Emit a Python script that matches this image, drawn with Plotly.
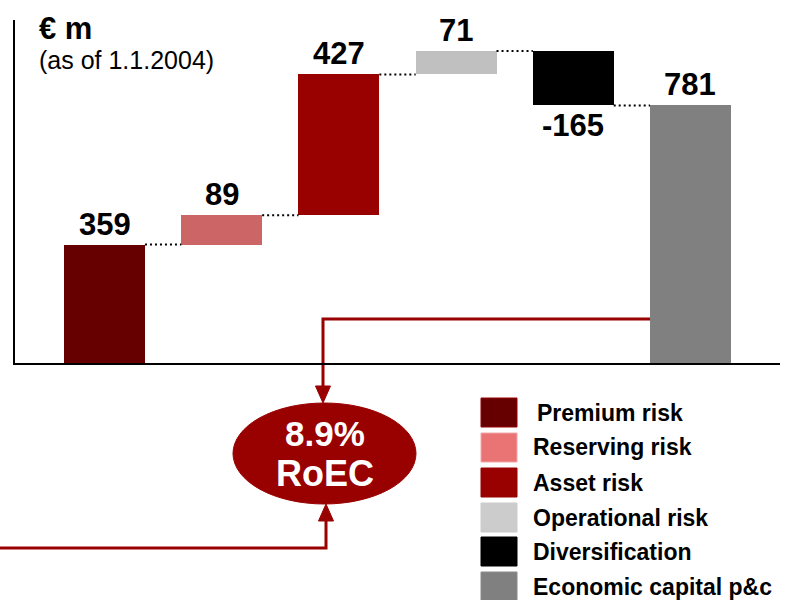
import plotly.graph_objects as go

# ---- data ----
categories = ["Premium risk", "Reserving risk", "Asset risk", "Operational risk",
              "Diversification", "Economic capital p&c"]
values = [359, 89, 427, 71, -165, 781]
is_total = [False, False, False, False, False, True]
value_labels = ["359", "89", "427", "71", "-165", "781"]
bar_colors = ["#660000", "#CC6666", "#990000", "#C0C0C0", "#000000", "#808080"]
legend_colors = ["#660000", "#EA7373", "#990000", "#CCCCCC", "#000000", "#808080"]
legend_borders = ["#990000", "#F2A8A8", "#990000", "#CCCCCC", "#000000", "#8A8A8A"]
unit_title = "€ m"
subtitle = "(as of 1.1.2004)"
roec_value = "8.9%"
roec_text = "RoEC"

FONT = "Liberation Sans, Arial, Helvetica, sans-serif"
RED = "#990000"
W, H = 792, 600
ML, MR, MT, MB = 15, 12, 20, 237
BAR_W = 0.69

# waterfall bases from the data
bases, ends = [], []
cum = 0
for v, tot in zip(values, is_total):
    if tot:
        bases.append(0)
        ends.append(v)
    else:
        bases.append(cum)
        cum += v
        ends.append(cum)

xs = list(range(len(categories)))

fig = go.Figure()
fig.add_trace(go.Bar(x=xs, y=values, base=bases, width=BAR_W,
                     marker=dict(color=bar_colors, line=dict(width=0)),
                     hoverinfo="skip", showlegend=False))

# dotted connectors
for i in range(len(xs) - 1):
    lvl = ends[i]
    fig.add_trace(go.Scatter(x=[xs[i] + BAR_W / 2, xs[i + 1] - BAR_W / 2], y=[lvl, lvl],
                             mode="lines", line=dict(color="black", width=2, dash="2px,3px"),
                             hoverinfo="skip", showlegend=False))

pw = W - ML - MR
ph = H - MT - MB


def px(xp):
    return (xp - ML) / pw


def py(yp):
    return (H - MB - yp) / ph


annotations = []
# value labels
for i, (v, lab) in enumerate(zip(values, value_labels)):
    top = bases[i] + max(v, 0)
    bot = bases[i] + min(v, 0)
    if v >= 0:
        annotations.append(dict(x=xs[i], y=top, xref="x", yref="y", text="<b>%s</b>" % lab,
                                showarrow=False, yanchor="bottom", yshift=1,
                                font=dict(size=31, color="black", family=FONT)))
    else:
        annotations.append(dict(x=xs[i], y=bot, xref="x", yref="y", text="<b>%s</b>" % lab,
                                showarrow=False, yanchor="top", yshift=-1,
                                font=dict(size=31, color="black", family=FONT)))

# title
annotations.append(dict(x=px(37), y=py(9), xref="paper", yref="paper", text="<b>%s</b>" % unit_title,
                        showarrow=False, xanchor="left", yanchor="top",
                        font=dict(size=31, color="black", family=FONT)))
annotations.append(dict(x=px(37), y=py(44), xref="paper", yref="paper", text=subtitle,
                        showarrow=False, xanchor="left", yanchor="top",
                        font=dict(size=25, color="black", family=FONT)))

# RoEC ellipse text
annotations.append(dict(x=px(324.5), y=py(434), xref="paper", yref="paper", text="<b>%s</b>" % roec_value,
                        showarrow=False, xanchor="center", yanchor="middle",
                        font=dict(size=35, color="white", family=FONT)))
annotations.append(dict(x=px(324.5), y=py(473), xref="paper", yref="paper", text="<b>%s</b>" % roec_text,
                        showarrow=False, xanchor="center", yanchor="middle",
                        font=dict(size=36, color="white", family=FONT)))

shapes = []
# ellipse
shapes.append(dict(type="circle", xref="paper", yref="paper",
                   x0=px(233), x1=px(416), y0=py(504), y1=py(403),
                   fillcolor=RED, line=dict(color=RED, width=1)))


def path(points):
    s = "M %f,%f" % (px(points[0][0]), py(points[0][1]))
    for p in points[1:]:
        s += " L %f,%f" % (px(p[0]), py(p[1]))
    return s


shapes.append(dict(type="path", xref="paper", yref="paper", layer="below",
                   path=path([(650, 319), (323, 319), (323, 390)]),
                   line=dict(color=RED, width=3)))
shapes.append(dict(type="path", xref="paper", yref="paper",
                   path=path([(-2, 548), (326, 548), (326, 518)]),
                   line=dict(color=RED, width=3)))
# arrow heads
shapes.append(dict(type="path", xref="paper", yref="paper",
                   path=path([(315.5, 386), (330.5, 386), (323, 403)]) + " Z",
                   fillcolor=RED, line=dict(color=RED, width=1)))
shapes.append(dict(type="path", xref="paper", yref="paper",
                   path=path([(318.5, 521), (333.5, 521), (326, 504)]) + " Z",
                   fillcolor=RED, line=dict(color=RED, width=1)))

# legend
sq_tops = [398, 433, 468, 503, 537, 572]
for i, cat in enumerate(categories):
    t = sq_tops[i]
    shapes.append(dict(type="rect", xref="paper", yref="paper",
                       x0=px(481), x1=px(517), y0=py(t + 29), y1=py(t),
                       fillcolor=legend_colors[i], line=dict(color=legend_borders[i], width=1)))
    annotations.append(dict(x=px(535 if i == 0 else 531), y=py(t + 14.5), xref="paper", yref="paper",
                            text="<b>%s</b>" % cat, showarrow=False, xanchor="left", yanchor="middle",
                            font=dict(size=23, color="black", family=FONT)))

fig.update_layout(
    width=W, height=H,
    margin=dict(l=ML, r=MR, t=MT, b=MB, pad=0),
    paper_bgcolor="white", plot_bgcolor="white",
    font=dict(family=FONT),
    xaxis=dict(range=[-0.764, 5.764], showline=True, linecolor="black", linewidth=2,
               showticklabels=False, ticks="", showgrid=False, zeroline=False, fixedrange=True),
    yaxis=dict(range=[0, 1040], showline=True, linecolor="black", linewidth=2,
               showticklabels=False, ticks="", showgrid=False, zeroline=False, fixedrange=True),
    annotations=annotations, shapes=shapes,
    bargap=0, showlegend=False,
)

fig.write_html("out.html", config={"displayModeBar": False})
